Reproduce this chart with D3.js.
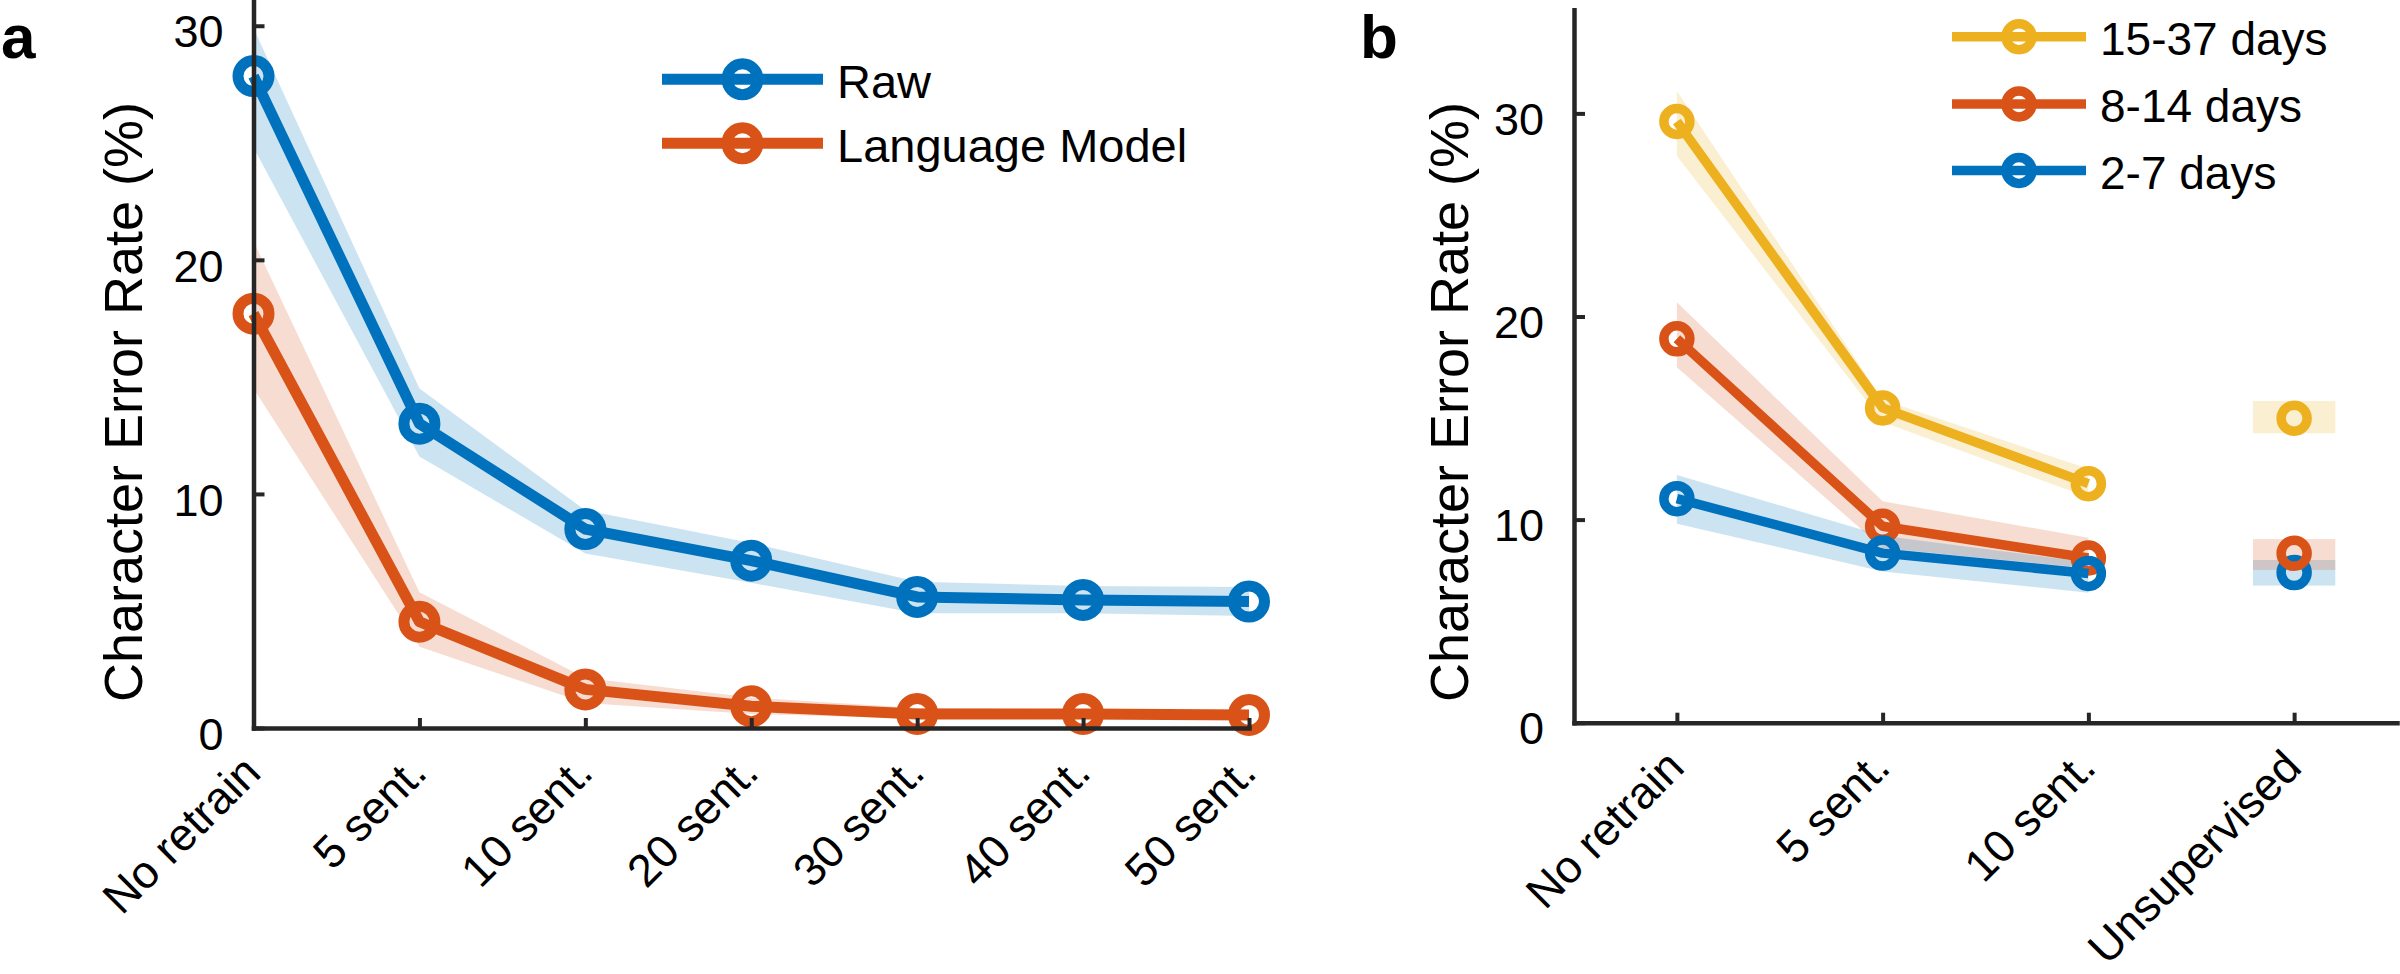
<!DOCTYPE html>
<html><head><meta charset="utf-8">
<script src="https://cdn.jsdelivr.net/npm/d3@7"></script>
<style>
html,body{margin:0;padding:0;background:#fff;}
text{font-family:"Liberation Sans",Arial,Helvetica,sans-serif;fill:#000;}
</style></head>
<body>
<svg id="chart" width="2400" height="974"></svg>
<script>
// ---------- Panel a data ----------
const catsA = ["No retrain","5 sent.","10 sent.","20 sent.","30 sent.","40 sent.","50 sent."];
const rawMean = [27.85, 13.0, 8.5, 7.15, 5.6, 5.47, 5.4];
const rawHi   = [29.9, 14.5, 9.3, 7.9, 6.25, 6.07, 6.02];
const rawLo   = [24.8, 11.6, 7.45, 6.2, 4.9, 4.9, 4.78];
const lmMean  = [17.7, 4.54, 1.65, 0.93, 0.6, 0.6, 0.56];
const lmHi    = [20.8, 5.8, 2.14, 1.3, 0.85, 0.8, 0.75];
const lmLo    = [14.5, 3.47, 1.07, 0.6, 0.4, 0.4, 0.38];
const legendA = ["Raw","Language Model"];
const yTicksA = [0,10,20,30];

// ---------- Panel b data ----------
const catsB = ["No retrain","5 sent.","10 sent.","Unsupervised"];
const seriesB = ["15-37 days","8-14 days","2-7 days"];
const d15Mean = [29.6, 15.5, 11.77];
const d15Hi   = [31.1, 15.9, 12.5];
const d15Lo   = [27.9, 14.8, 11.1];
const d8Mean  = [18.9, 9.67, 8.11];
const d8Hi    = [20.7, 10.9, 9.1];
const d8Lo    = [17.5, 8.6, 7.6];
const d2Mean  = [11.03, 8.35, 7.35];
const d2Hi    = [12.2, 9.2, 7.9];
const d2Lo    = [9.8, 7.45, 6.4];
// unsupervised (order: 15-37, 8-14, 2-7)
const unsMean = [14.99, 8.34, 7.39];
const unsHi   = [15.84, 9.04, 8.01];
const unsLo   = [14.25, 7.52, 6.75];
const yTicksB = [0,10,20,30];

const BLUE="#0072BD", ORANGE="#D95319", YELLOW="#EDB120", AX="#262626";
const FONT = '"Liberation Sans",Arial,sans-serif';

const svg = d3.select("#chart");
svg.append("rect").attr("width",2400).attr("height",974).attr("fill","#fff");

function styleAxis(g){
  g.select(".domain").attr("stroke",AX).attr("stroke-width",4.5).attr("stroke-linecap","square");
  g.selectAll(".tick line").attr("stroke",AX).attr("stroke-width",4);
  g.selectAll(".tick text").attr("fill","#000");
}

function panel(opts){
  const {x, y, cats, tickVals, yTicks, originX, originY} = opts;
  const g = svg.append("g");
  const ya = g.append("g").attr("transform",`translate(${originX},0)`)
    .call(d3.axisLeft(y).tickValues(yTicks).tickSizeInner(-11).tickSizeOuter(0).tickPadding(30));
  ya.selectAll(".tick text").attr("font-size",45).attr("y",5).attr("dy","0.36em").style("font-family",FONT);
  styleAxis(ya);
  const xa = g.append("g").attr("transform",`translate(0,${originY})`)
    .call(d3.axisBottom(x).tickValues(tickVals).tickFormat((d,i)=>cats[i]).tickSizeInner(-10).tickSizeOuter(0));
  xa.selectAll(".tick text").attr("font-size",45.5).attr("text-anchor","end")
    .attr("x",null).attr("y",null).attr("dy",null)
    .attr("transform","translate(9,47) rotate(-45)")
    .style("font-family",FONT);
  styleAxis(xa);
  return g;
}

function drawSeries(g, x, y, xs, mean, hi, lo, color, lw, r, sw){
  const idx = d3.range(mean.length);
  g.append("path").datum(idx)
    .attr("d", d3.area().x(i=>x(xs[i])).y0(i=>y(lo[i])).y1(i=>y(hi[i])))
    .attr("fill",color).attr("fill-opacity",0.2).attr("stroke","none");
  return () => {
    g.append("path").datum(idx)
      .attr("d", d3.line().x(i=>x(xs[i])).y(i=>y(mean[i])))
      .attr("fill","none").attr("stroke",color).attr("stroke-width",lw).attr("stroke-linejoin","round");
    g.selectAll(null).data(idx).enter().append("circle")
      .attr("cx",i=>x(xs[i])).attr("cy",i=>y(mean[i])).attr("r",r)
      .attr("fill","none").attr("stroke",color).attr("stroke-width",sw);
  };
}

function legend(g, items, x0, x1, ys, textX, fs, lw, r, sw){
  items.forEach((it,k)=>{
    const yy = ys[k];
    g.append("line").attr("x1",x0).attr("x2",x1).attr("y1",yy).attr("y2",yy)
      .attr("stroke",it.color).attr("stroke-width",lw);
    g.append("circle").attr("cx",(x0+x1)/2).attr("cy",yy).attr("r",r)
      .attr("fill","none").attr("stroke",it.color).attr("stroke-width",sw);
    g.append("text").attr("x",textX).attr("y",yy).attr("dy","0.4em")
      .attr("font-size",fs).text(it.label);
  });
}

// ================= Panel a =================
const xA = d3.scaleLinear().domain([1,7]).range([253.5,1249]);
const yA = d3.scaleLinear().domain([0,31.1]).range([728,0]);
const xsA = d3.range(1,8);
const gA = svg.append("g");
const fRaw = drawSeries(gA, xA, yA, xsA, rawMean, rawHi, rawLo, BLUE, 11, 15.5, 11);
const fLm  = drawSeries(gA, xA, yA, xsA, lmMean, lmHi, lmLo, ORANGE, 11, 15.5, 11);
panel({x:xA, y:yA, cats:catsA, tickVals:xsA, yTicks:yTicksA, originX:253.5, originY:728});
fRaw(); fLm();
legend(svg, [{label:legendA[0],color:BLUE},{label:legendA[1],color:ORANGE}],
  662, 823, [79.3,143.3], 837, 47, 11, 15.5, 11);
svg.append("text").attr("transform","translate(142,402) rotate(-90)")
  .attr("text-anchor","middle").attr("font-size",54).text("Character Error Rate (%)");
svg.append("text").attr("x",1).attr("y",58).attr("font-size",62).attr("font-weight","bold").text("a");

// ================= Panel b =================
const xB = d3.scaleLinear().domain([0.5,4.5]).range([1574,2397]);
const yB = d3.scaleLinear().domain([0,35.1]).range([722.7,9.8]);
const xsB = [1,2,3];
const gB = svg.append("g");
const f15 = drawSeries(gB, xB, yB, xsB, d15Mean, d15Hi, d15Lo, YELLOW, 9.5, 13, 9.5);
const f8  = drawSeries(gB, xB, yB, xsB, d8Mean, d8Hi, d8Lo, ORANGE, 9.5, 13, 9.5);
const f2  = drawSeries(gB, xB, yB, xsB, d2Mean, d2Hi, d2Lo, BLUE, 9.5, 13, 9.5);
const unsColors = [YELLOW, ORANGE, BLUE];
[2,1,0].forEach(k=>{
  gB.append("rect").attr("x",xB(4-0.2)).attr("width",xB(4.2)-xB(3.8))
    .attr("y",yB(unsHi[k])).attr("height",yB(unsLo[k])-yB(unsHi[k]))
    .attr("fill",unsColors[k]).attr("fill-opacity",0.2);
});
panel({x:xB, y:yB, cats:catsB, tickVals:[1,2,3,4], yTicks:yTicksB, originX:1574, originY:722.7});
f15(); f8(); f2();
[2,1,0].forEach(k=>{
  gB.append("circle").attr("cx",xB(4)).attr("cy",yB(unsMean[k])).attr("r",13)
    .attr("fill","none").attr("stroke",unsColors[k]).attr("stroke-width",9.5);
});
legend(svg, [{label:seriesB[0],color:YELLOW},{label:seriesB[1],color:ORANGE},{label:seriesB[2],color:BLUE}],
  1952, 2086, [36.7,104,170.5], 2100, 46, 9.5, 13, 9.5);
svg.append("text").attr("transform","translate(1468,402) rotate(-90)")
  .attr("text-anchor","middle").attr("font-size",54).text("Character Error Rate (%)");
svg.append("text").attr("x",1360).attr("y",58).attr("font-size",62).attr("font-weight","bold").text("b");
</script>
</body></html>
